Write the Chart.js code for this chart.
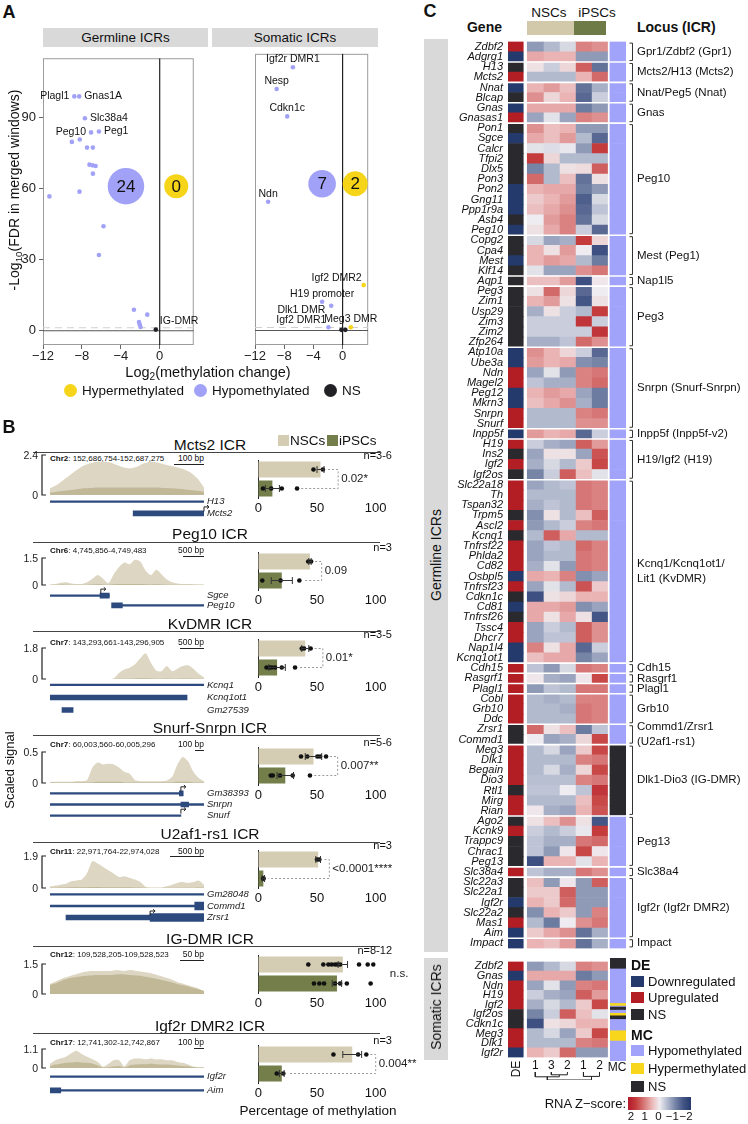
<!DOCTYPE html>
<html>
<head>
<meta charset="utf-8">
<script src="https://cdn.jsdelivr.net/npm/chart.js@4.4.1/dist/chart.umd.min.js"></script>
<style>
  body { margin: 0; background: #fff; }
  #fig { position: relative; width: 748px; height: 1124px; overflow: hidden; font-family: 'Liberation Sans', Arial, sans-serif; color: #111; }
  #fig canvas { position: absolute; }
  .t { position: absolute; white-space: nowrap; line-height: 1; }
  .t sub { font-size: 70%; vertical-align: baseline; position: relative; top: 0.3em; }
</style>
</head>
<body>
<div id="fig"></div>
<script>
// ---------- Panel A: volcano plots ----------
const A_X_MIN = -12, A_X_MAX = 3.5, A_Y_MIN = -6, A_Y_MAX = 115;
const A_X_TICKS = [-12, -8, -4, 0];
const A_Y_TICKS = [0, 30, 60, 90];
const FDR_CUTOFF = 1.3;

const GERM_HYPO_X = [-8.78, -8.28, -7.69, -7.06, -6.25, -9.03, -8.22, -7.47, -6.87, -7.22, -6.9, -6.59, -6.87, -8.25, -11.34, -5.78, -6.25, -2.65, -1.28, -2.13, -2.06, -1.97];
const GERM_HYPO_Y = [98.9, 98.9, 89.7, 83.7, 84.1, 79.7, 80.7, 77.3, 77.3, 70.1, 69.8, 69.5, 66.3, 58.7, 56.7, 44.1, 32, 8.9, 6.8, 3.7, 2.7, 1.6];
const GERM_HYPO_NAMES = ['Plagl1', 'Gnas1A', 'Slc38a4', 'Peg10', 'Peg1'];
const GERM_HYPER_X = [], GERM_HYPER_Y = [], GERM_HYPER_NAMES = [];
const GERM_NS_X = [-0.4], GERM_NS_Y = [0.5], GERM_NS_NAMES = ['IG-DMR'];

const SOM_HYPO_X = [-6.81, -9.03, -7.59, -10.2, -2.81, -1.56, -1.94];
const SOM_HYPO_Y = [109.4, 100.4, 89, 53.5, 12, 10.3, 1.35];
const SOM_HYPO_NAMES = ['Igf2r DMR1', 'Nesp', 'Cdkn1c', 'Ndn', 'H19 promoter', 'Dlk1 DMR', 'Igf2 DMR1'];
const SOM_HYPER_X = [2.88, 1.12], SOM_HYPER_Y = [18.9, 1.4], SOM_HYPER_NAMES = ['Igf2 DMR2', 'Meg3 DMR'];
const SOM_NS_X = [-0.16, 0.37], SOM_NS_Y = [0.3, 0.3], SOM_NS_NAMES = [];

// counts of hypo / hyper ICRs shown in the circles
const GERM_COUNTS = [24, 0], GERM_COUNT_X = [-3.47, 1.7];
const SOM_COUNTS = [7, 2], SOM_COUNT_X = [-2.81, 1.72];
const COUNT_Y = 61;

const LABEL_POS = { 'Plagl1': 'left', 'Gnas1A': 'right', 'Slc38a4': 'right', 'Peg10': 'left', 'Peg1': 'right',
  'IG-DMR': 'upright', 'Dlk1 DMR': 'leftdown', 'Igf2 DMR2': 'upleft', 'Igf2 DMR1': 'upleft' };

// ---------- Panel B: ICR tracks + methylation ----------
const ICR_TITLES = ['Mcts2 ICR', 'Peg10 ICR', 'KvDMR ICR', 'Snurf-Snrpn ICR', 'U2af1-rs1 ICR', 'IG-DMR ICR', 'Igf2r DMR2 ICR'];
const ICR_CHR = ['Chr2', 'Chr6', 'Chr7', 'Chr7', 'Chr11', 'Chr12', 'Chr17'];
const ICR_RANGE = ['152,686,754-152,687,275', '4,745,856-4,749,483', '143,293,661-143,296,905', '60,003,560-60,005,296',
  '22,971,764-22,974,028', '109,528,205-109,528,523', '12,741,302-12,742,867'];
const ICR_SCALE = ['100 bp', '500 bp', '500 bp', '100 bp', '500 bp', '50 bp', '100 bp'];
const SIGNAL_MAX = [2.4, 1.5, 1.8, 0.5, 1.9, 1.5, 1.1];

const NSC_SIGNAL = [
  [0.4, 0.6, 0.9, 1.2, 1.5, 1.75, 1.9, 2.0, 2.0, 1.95, 1.8, 1.65, 1.6, 1.7, 1.9, 2.0, 1.95, 1.85, 1.75, 1.65, 1.55, 1.35, 1.0, 0.45],
  [0.02, 0.05, 0.12, 0.15, 0.08, 0.05, 0.05, 0.15, 0.35, 0.55, 0.35, 0.1, 0.6, 1.0, 1.25, 1.15, 1.4, 1.3, 0.8, 0.55, 0.85, 0.6, 0.3, 0.15, 0.08, 0.05, 0.05, 0.04, 0.03, 0.02],
  [0, 0, 0, 0, 0, 0, 0, 0, 0, 0, 0, 0, 0.05, 0.35, 0.55, 0.65, 0.85, 1.2, 1.5, 0.95, 0.5, 0.45, 0.75, 0.45, 0.6, 0.75, 0.8, 0.6, 0.3, 0.1],
  [0.02, 0.02, 0.02, 0.02, 0.02, 0.03, 0.03, 0.05, 0.25, 0.33, 0.3, 0.31, 0.3, 0.25, 0.18, 0.15, 0.05, 0.03, 0.03, 0.03, 0.03, 0.03, 0.04, 0.1, 0.3, 0.42, 0.35, 0.18, 0.08, 0.03],
  [0.1, 0.15, 0.2, 0.25, 0.4, 0.45, 0.5, 0.9, 1.6, 1.45, 1.25, 1.05, 0.85, 0.65, 0.7, 0.6, 0.5, 0.35, 0.08, 0.02, 0.02, 0.02, 0.1, 0.2, 0.3, 0.35, 0.3, 0.35, 0.45, 0.2],
  [0.5, 0.65, 0.8, 0.9, 1.0, 1.1, 1.15, 1.15, 1.15, 1.15, 1.2, 1.15, 1.2, 1.15, 1.1, 1.05, 0.95, 0.85, 0.75, 0.6, 0.5, 0.4, 0.3, 0.15],
  [0.25, 0.45, 0.55, 0.65, 0.85, 1.0, 0.8, 0.65, 0.5, 0.35, 0.08, 0.25, 0.45, 0.45, 0.1, 0.45, 0.55, 0.55, 0.5, 0.55, 0.5, 0.5, 0.45, 0.45, 0.35, 0.3, 0.2, 0.08, 0.05, 0.05]
];
const IPSC_SIGNAL = [
  [0.15, 0.2, 0.25, 0.3, 0.35, 0.4, 0.42, 0.45, 0.45, 0.45, 0.45, 0.45, 0.45, 0.45, 0.45, 0.45, 0.45, 0.42, 0.4, 0.38, 0.35, 0.3, 0.25, 0.2],
  [0.01, 0.01, 0.02, 0.02, 0.01, 0.01, 0.01, 0.02, 0.03, 0.04, 0.03, 0.01, 0.04, 0.05, 0.06, 0.05, 0.06, 0.05, 0.04, 0.03, 0.04, 0.03, 0.02, 0.01, 0.01, 0.01, 0.01, 0.01, 0.01, 0.01],
  [0, 0, 0, 0, 0, 0, 0, 0, 0, 0, 0, 0, 0, 0.01, 0.02, 0.02, 0.03, 0.04, 0.05, 0.03, 0.02, 0.02, 0.03, 0.02, 0.02, 0.03, 0.03, 0.02, 0.01, 0],
  [0.01, 0.01, 0.01, 0.01, 0.01, 0.01, 0.01, 0.01, 0.01, 0.02, 0.02, 0.02, 0.02, 0.02, 0.01, 0.01, 0.01, 0.01, 0.01, 0.01, 0.01, 0.01, 0.01, 0.01, 0.02, 0.02, 0.02, 0.01, 0.01, 0.01],
  [0.02, 0.02, 0.03, 0.03, 0.04, 0.04, 0.04, 0.05, 0.06, 0.06, 0.05, 0.05, 0.04, 0.04, 0.04, 0.04, 0.03, 0.03, 0.01, 0.01, 0.01, 0.01, 0.01, 0.02, 0.02, 0.02, 0.02, 0.02, 0.03, 0.02],
  [0.45, 0.55, 0.7, 0.8, 0.85, 0.9, 0.92, 0.95, 0.95, 0.95, 0.98, 0.98, 0.95, 0.92, 0.88, 0.82, 0.75, 0.68, 0.6, 0.5, 0.42, 0.34, 0.25, 0.15],
  [0.1, 0.2, 0.25, 0.3, 0.32, 0.35, 0.32, 0.3, 0.25, 0.15, 0.03, 0.05, 0.1, 0.12, 0.03, 0.15, 0.2, 0.22, 0.22, 0.25, 0.22, 0.2, 0.2, 0.18, 0.15, 0.12, 0.1, 0.05, 0.03, 0.03]
];

// gene models, positions as fraction of the track window
const GENE_NAMES = [['H13', 'Mcts2'], ['Sgce', 'Peg10'], ['Kcnq1', 'Kcnq1ot1', 'Gm27539'], ['Gm38393', 'Snrpn', 'Snurf'],
  ['Gm28048', 'Commd1', 'Zrsr1'], [], ['Igf2r', 'Aim']];
const GENE_INTRON = [[[0, 1], null], [[0, 0.385], [0.47, 1]], [[0, 1], null, null], [[0, 0.85], [0, 1], [0, 0.85]],
  [[0, 1], [0, 0.94], null], [], [[0, 1], [0.07, 1]]];
const GENE_EXON = [[null, [0.54, 1]], [[0.325, 0.385], [0.4, 0.47]], [null, [0, 0.89], [0.078, 0.15]], [[0.84, 0.865], [0.85, 0.9], null],
  [null, null, [0.104, 0.65]], [], [null, [0, 0.07]]];
const GENE_WIDE = [[null, null], [null, null], [null, null, null], [null, null, null], [null, [0.94, 1], [0.65, 1]], [], [null, null]];
const GENE_TSS = [[null, 1], [0.33, null], [null, null, null], [0.85, null, 0.85], [null, null, 0.65], [], [null, null]];

const GROUPS = ['NSCs', 'iPSCs'];
const PCT_TICKS = [0, 50, 100];
const NSC_MEAN = [53, 44, 40, 47, 51, 72, 80];
const NSC_SEM = [3, 1, 3, 7, 2, 4, 8];
const IPSC_MEAN = [12, 20, 16, 23, 4.3, 67, 20];
const IPSC_SEM = [6, 9, 7, 7, 1, 4, 2];
const NSC_POINTS = [[47, 55], [42.5, 45], [37, 39, 44.6], [36.4, 41.7, 50.3, 52.6, 57.7], [50, 52],
  [42.6, 55.4, 59.7, 62.5, 65.4, 67.4, 69.7, 85.8, 93.2, 98], [64, 85, 92]];
const IPSC_POINTS = [[4, 11, 20, 33], [3.4, 19, 35], [7, 9.4, 11.4, 14.3, 20, 31.3], [10.6, 12.3, 18.5, 29.3, 44], [4.2, 4.5],
  [47.4, 52, 56, 65.4, 69.7, 75.4, 95.7], [15.7, 21.3]];
const SAMPLE_N = ['n=3-6', 'n=3', 'n=3-5', 'n=5-6', 'n=3', 'n=8-12', 'n=3'];
const P_VALUES = ['0.02*', '0.09', '0.01*', '0.007**', '<0.0001****', 'n.s.', '0.004**'];
const P_BRACKET_AT = [68, 54, 55, 67.6, 60.5, null, 100];

// ---------- Panel C: heatmap ----------
const REPLICATE_LABELS = ['1', '3', '2', '1', '2'];
const GERM_GENES = ['Zdbf2', 'Adgrg1', 'H13', 'Mcts2', 'Nnat', 'Blcap', 'Gnas', 'Gnasas1', 'Pon1', 'Sgce', 'Calcr', 'Tfpi2', 'Dlx5',
  'Pon3', 'Pon2', 'Gng11', 'Ppp1r9a', 'Asb4', 'Peg10', 'Copg2', 'Cpa4', 'Mest', 'Klf14', 'Aqp1', 'Peg3', 'Zim1', 'Usp29', 'Zim3',
  'Zim2', 'Zfp264', 'Atp10a', 'Ube3a', 'Ndn', 'Magel2', 'Peg12', 'Mkrn3', 'Snrpn', 'Snurf', 'Inpp5f', 'H19', 'Ins2', 'Igf2',
  'Igf2os', 'Slc22a18', 'Th', 'Tspan32', 'Trpm5', 'Ascl2', 'Kcnq1', 'Tnfrsf22', 'Phlda2', 'Cd82', 'Osbpl5', 'Tnfrsf23',
  'Cdkn1c', 'Cd81', 'Tnfrsf26', 'Tssc4', 'Dhcr7', 'Nap1l4', 'Kcnq1ot1', 'Cdh15', 'Rasgrf1', 'Plagl1', 'Cobl', 'Grb10', 'Ddc',
  'Zrsr1', 'Commd1', 'Meg3', 'Dlk1', 'Begain', 'Dio3', 'Rtl1', 'Mirg', 'Rian', 'Ago2', 'Kcnk9', 'Trappc9', 'Chrac1', 'Peg13',
  'Slc38a4', 'Slc22a3', 'Slc22a1', 'Igf2r', 'Slc22a2', 'Mas1', 'Aim', 'Impact'];
const GERM_DE = ['U', 'D', 'N', 'U', 'D', 'N', 'D', 'U', 'N', 'D', 'N', 'N', 'N', 'N', 'D', 'D', 'D', 'N', 'D', 'N', 'N', 'D', 'N',
  'N', 'N', 'N', 'N', 'N', 'N', 'N', 'D', 'D', 'U', 'U', 'D', 'D', 'U', 'U', 'D', 'U', 'N', 'U', 'N', 'U', 'U', 'U', 'N', 'U',
  'N', 'U', 'U', 'U', 'D', 'U', 'N', 'D', 'N', 'U', 'U', 'D', 'D', 'U', 'U', 'U', 'U', 'U', 'U', 'N', 'N', 'U', 'U', 'U', 'U',
  'N', 'U', 'U', 'N', 'U', 'N', 'N', 'N', 'U', 'N', 'N', 'D', 'N', 'U', 'D', 'D'];
// RNA z-scores per gene: NSC 1, NSC 3, NSC 2, iPSC 1, iPSC 2
const GERM_Z = [
  [-0.8, -0.5, -0.2, 0.9, 0.8], [0.6, 0.5, 0.5, -0.8, -0.8], [0.1, -0.3, 0.2, 1.2, -1.2], [-0.5, -0.5, -0.5, 0.5, 1.1],
  [0.5, 0.7, 0.4, -1.2, -0.6], [0.8, 0.2, 0.5, -1.3, -0.3], [0.6, 0.6, 0.6, -1.1, -0.8], [-0.7, -0.1, -0.7, 0.9, 0.8],
  [0.8, 0.4, 0.5, -0.8, -0.8], [0.6, 0.4, 0.7, -0.5, -1.3], [-0.1, -0.15, -0.05, -0.8, 1.5], [1.5, 0.2, -0.5, -0.5, -0.5],
  [-1.0, -0.5, 0.1, 0.15, 1.2], [1.1, -0.5, 0.4, -1.2, 0.1], [0.5, 0.6, 0.6, -1.1, -0.8], [0.3, 0.5, 0.7, -1.4, -0.2],
  [0.4, 0.6, 0.8, -1.3, -0.4], [0, 0.7, 0.9, -1.2, -0.2], [0.1, 0.6, 0.9, -0.3, -1.3], [-0.2, -0.7, -0.6, 1.5, 0.2],
  [0.5, 0.1, 0.7, 0, -1.6], [0.5, 0.7, 0.6, -0.5, -1.1], [-0.1, -0.7, -0.7, 0.8, 1.0], [0.4, 0.4, 0.7, -1.6, 0.05],
  [0.1, 1.1, 0.2, -1.3, 0], [0.5, 0.7, 0.1, -1.5, 0.1], [-0.6, 0.1, -0.3, -0.5, 1.5], [-0.3, -0.3, -0.3, 1.6, -0.3],
  [-0.3, -0.3, -0.3, -0.3, 1.6], [-0.6, -0.6, -0.4, 1.1, 0.8], [0.8, 0.5, 0.2, -0.3, -1.3], [0.7, 0.5, 0.6, -0.9, -1.0],
  [-0.7, -0.1, -0.8, 0.9, 1.0], [-0.4, -0.6, -0.6, 0.9, 1.1], [0.5, 0.7, 0.6, -0.7, -1.1], [0.4, 0.6, 0.8, -0.6, -1.1],
  [-0.5, -0.5, -0.5, 0.9, 1.0], [-0.5, -0.5, -0.5, 0.8, 0.8], [0.7, 0.5, 0.6, -1.3, -0.3], [-0.3, -0.6, -0.7, 1.2, 0.7],
  [-0.7, 0.1, 0.1, -0.7, 1.3], [-0.6, -0.2, -0.5, 0.3, 1.4], [-1.0, -0.3, 1.2, 0.4, -0.1], [-0.7, -0.5, -0.4, 1.0, 0.9],
  [-0.5, -0.5, -0.5, 1.0, 0.9], [-0.6, -0.4, -0.5, 1.0, 0.9], [-0.9, 0.1, -0.5, 0.4, 1.2], [-0.8, -0.5, -0.3, 0.9, 1.0],
  [-0.5, 1.2, 0.6, -0.5, -0.5], [-0.7, -0.4, -0.5, 1.1, 0.9], [-0.7, -0.5, -0.5, 1.0, 0.9], [-0.6, -0.1, -0.8, 1.0, 0.9],
  [0.6, 0.5, 0.9, -0.9, -0.7], [-0.7, -0.1, -0.5, 1.3, 0.3], [-1.6, 0.1, 0.2, 0.5, 0.5], [0.6, 0.6, 0.7, -0.9, -0.7],
  [0.6, 0.1, 0.6, 0.1, -1.5], [-0.7, -0.3, -0.5, 1.2, 0.8], [-0.7, -0.4, -0.4, 1.2, 0.8], [0.9, 0.1, 0.6, -1.3, -0.3],
  [0.4, 0.6, 0.6, -1.0, -0.7], [-0.4, -0.8, -0.2, 1.0, 0.9], [0.05, -0.6, -0.7, 0.05, 1.4], [-0.8, -0.4, -0.5, 1.0, 1.0],
  [-0.5, -0.6, -0.5, 0.9, 0.9], [-0.5, -0.5, -0.6, 1.0, 0.9], [-0.5, -0.5, -0.5, 1.0, 0.9], [1.1, 0.1, 0.4, -1.1, -0.4],
  [0, -0.7, -0.6, 0.2, 1.4], [-0.5, -0.2, -0.7, 0.3, 1.4], [-0.5, -0.5, -0.5, 0.9, 1.0], [-0.5, -0.2, -0.6, 0.2, 1.4],
  [-0.45, -0.45, -0.45, 0.9, 1.0], [-0.4, -0.4, 0, -0.4, 1.6], [-0.5, -0.5, -0.5, 0.4, 1.4], [0.05, -0.6, -0.7, 0.5, 1.3],
  [0.1, 0.4, 0.8, 0.1, -1.5], [-0.3, -0.5, -0.3, -0.05, 1.5], [-0.4, -0.6, -0.6, 1.0, 1.1], [-0.4, -0.8, 0.05, 1.4, 0.05],
  [-1.6, 0.5, 0.5, -0.1, 0.5], [-0.4, -0.6, -0.6, 1.0, 0.8], [0.4, -0.8, 0.05, -0.8, 1.2], [0.3, 0.3, 1.2, -0.8, -0.8],
  [0.5, 0.3, 1.1, -0.8, -0.8], [-0.9, 0.5, 0.3, -0.8, 0.9], [-0.5, -1.1, 0, 0.8, 1.0], [0.3, 0.6, 0.8, -1.2, -0.6],
  [0.5, 0.4, 0.7, -1.2, -0.6]
];
const LOCUS_LABELS = ['Gpr1/Zdbf2 (Gpr1)', 'Mcts2/H13 (Mcts2)', 'Nnat/Peg5 (Nnat)', 'Gnas', 'Peg10', 'Mest (Peg1)', 'Nap1l5', 'Peg3',
  'Snrpn (Snurf-Snrpn)', 'Inpp5f (Inpp5f-v2)', 'H19/Igf2 (H19)', 'Kcnq1/Kcnq1ot1/\nLit1 (KvDMR)', 'Cdh15', 'Rasgrf1', 'Plagl1',
  'Grb10', 'Commd1/Zrsr1\n(U2af1-rs1)', 'Dlk1-Dio3 (IG-DMR)', 'Peg13', 'Slc38a4', 'Igf2r (Igf2r DMR2)', 'Impact'];
const LOCUS_START = [0, 2, 4, 6, 8, 19, 23, 24, 30, 38, 39, 43, 61, 62, 63, 64, 67, 69, 76, 81, 82, 88];
const LOCUS_MC = ['hypo', 'hypo', 'hypo', 'hypo', 'hypo', 'hypo', 'hypo', 'hypo', 'hypo', 'hypo', 'hypo', 'hypo', 'hypo', 'hypo',
  'hypo', 'hypo', 'hypo', 'ns', 'hypo', 'hypo', 'hypo', 'hypo'];
const SOM_GENES = ['Zdbf2', 'Gnas', 'Ndn', 'H19', 'Igf2', 'Igf2os', 'Cdkn1c', 'Meg3', 'Dlk1', 'Igf2r'];
// somatic MC column, in row units from the top (some genes carry several DMRs)
const SOM_MC_STATE = ['ns', 'hypo', 'hyper', 'hypo', 'ns', 'hypo', 'hyper', 'ns', 'hypo', 'hyper', 'hypo'];
const SOM_MC_SPAN = [1, 3.35, 0.25, 0.1, 0.3, 0.3, 0.25, 0.35, 1.1, 1, 2];
const DENDRO_MERGES = [[1, 2, 0.35], [0, 5, 0.6], [3, 4, 0.55], [6, 7, 1]];
const Z_LEGEND_TICKS = [2, 1, 0, -1, -2];

// ---------- styles ----------
const HYPO = '#a1a2f7', HYPER = '#f6d418', NSDOT = '#222226';
const NSC_COLOR = '#d4ccb3', IPSC_COLOR = '#737e4b';
const NSC_AREA = '#ddd6c2', IPSC_AREA = '#c1b898';
const GENE_COLOR = '#2c4a7e';
const DE_COLOR = { U: '#b21e24', D: '#243a6c', N: '#29292e' };
const MC_COLOR = { hypo: '#a1a3fb', hyper: '#f8d61c', ns: '#29292e' };
const Z_STOPS = [[-2, [38, 58, 110]], [-1.5, [68, 86, 134]], [-1, [118, 132, 166]], [-0.5, [178, 186, 206]], [0, [238, 236, 240]],
  [0.5, [234, 180, 180]], [1, [214, 118, 118]], [1.5, [196, 60, 60]], [2, [178, 24, 43]]];
const FONT = "'Liberation Sans', Arial, sans-serif";

Chart.defaults.font.family = FONT;
Chart.defaults.color = '#111';
Chart.defaults.animation = false;
Chart.defaults.plugins.legend.display = false;
Chart.defaults.plugins.tooltip.enabled = false;

const fig = document.getElementById('fig');

function canvasAt(x, y, w, h) {
  const c = document.createElement('canvas');
  c.width = Math.round(w);
  c.height = Math.round(h);
  c.style.left = x + 'px';
  c.style.top = y + 'px';
  fig.appendChild(c);
  return c;
}

function label(x, y, html, css, align) {
  const d = document.createElement('div');
  d.className = 't';
  d.innerHTML = html;
  d.style.cssText = css || '';
  d.style.left = x + 'px';
  d.style.top = y + 'px';
  if (align === 'vert') d.style.transform = 'translate(-50%, -50%) rotate(-90deg)';
  else d.style.transform = 'translate(' + (align === 'right' ? '-100%' : align === 'left' ? '0' : '-50%') + ', -50%)';
  fig.appendChild(d);
  return d;
}

function box(x, y, w, h, color) {
  const d = document.createElement('div');
  d.style.cssText = `position:absolute;left:${x}px;top:${y}px;width:${w}px;height:${h}px;background:${color};`;
  fig.appendChild(d);
  return d;
}

function zColor(z) {
  z = Math.max(-2, Math.min(2, z));
  for (let k = 1; k < Z_STOPS.length; k++) {
    const [z1, c1] = Z_STOPS[k - 1], [z2, c2] = Z_STOPS[k];
    if (z <= z2) {
      const t = (z - z1) / (z2 - z1);
      return 'rgb(' + c1.map((v, n) => Math.round(v + (c2[n] - v) * t)).join(',') + ')';
    }
  }
}

const minus = v => String(v).replace('-', '\u2212');
const pts = (xs, ys) => xs.map((x, i) => ({ x, y: ys[i] }));

// ---------- Panel A ----------
const framePlugin = {
  id: 'frame',
  beforeDatasetsDraw(chart) {
    const { ctx, chartArea: a } = chart;
    ctx.save();
    ctx.strokeStyle = '#9c9c9c';
    ctx.lineWidth = 1;
    ctx.strokeRect(a.left + 0.5, a.top + 0.5, a.width - 1, a.height - 1);
    ctx.restore();
  }
};

const pointLabels = {
  id: 'pointLabels',
  afterDatasetsDraw(chart) {
    const ctx = chart.ctx;
    ctx.save();
    ctx.textBaseline = 'middle';
    ctx.fillStyle = '#111';
    chart.data.datasets.forEach((ds, di) => {
      const meta = chart.getDatasetMeta(di);
      if (ds.names) {
        ctx.font = '10.5px ' + FONT;
        meta.data.forEach((pt, i) => {
          const name = ds.names[i];
          if (!name) return;
          const pos = LABEL_POS[name] || 'up';
          let x = pt.x, y = pt.y;
          if (pos === 'left') { ctx.textAlign = 'right'; x -= 5; }
          else if (pos === 'leftdown') { ctx.textAlign = 'right'; x -= 6; y += 4; }
          else if (pos === 'right') { ctx.textAlign = 'left'; x += 5; }
          else if (pos === 'upright') { ctx.textAlign = 'left'; x += 4; y -= 8; }
          else if (pos === 'upleft') { ctx.textAlign = 'right'; x -= 2; y -= 7; }
          else { ctx.textAlign = 'center'; y -= 8; }
          ctx.fillText(name, x, y);
        });
      }
      if (ds.counts) {
        ctx.font = '17px ' + FONT;
        ctx.textAlign = 'center';
        meta.data.forEach((pt, i) => ctx.fillText(String(ds.counts[i]), pt.x, pt.y + 1));
      }
    });
    ctx.restore();
  }
};

function refLine(data, color, dash) {
  return { type: 'line', data, borderColor: color, borderWidth: 1.1, borderDash: dash || [], pointRadius: 0, fill: false };
}

function volcano(left, width, padLeft, f, showY) {
  const c = canvasAt(left, 40, width, 330);
  const dot = (xs, ys, names, color) => ({ type: 'scatter', data: pts(xs, ys), names, backgroundColor: color, pointRadius: 2.3, borderWidth: 0 });
  new Chart(c, {
    type: 'scatter',
    data: {
      datasets: [
        dot(f.hypoX, f.hypoY, f.hypoNames, HYPO),
        dot(f.hyperX, f.hyperY, f.hyperNames, HYPER),
        dot(f.nsX, f.nsY, f.nsNames, NSDOT),
        { type: 'bubble', data: f.counts.map((n, k) => ({ x: f.countX[k], y: COUNT_Y, r: 12 + n * 0.26 })),
          counts: f.counts, backgroundColor: [HYPO, HYPER], borderWidth: 0 },
        refLine([{ x: 0, y: A_Y_MIN }, { x: 0, y: A_Y_MAX }], '#111'),
        refLine([{ x: A_X_MIN, y: 0 }, { x: A_X_MAX, y: 0 }], '#555'),
        refLine([{ x: A_X_MIN, y: FDR_CUTOFF }, { x: A_X_MAX, y: FDR_CUTOFF }], '#cfcfcf', [7, 5])
      ]
    },
    options: {
      responsive: false,
      layout: { padding: { top: 7, right: 4, left: padLeft } },
      scales: {
        x: {
          type: 'linear', min: A_X_MIN, max: A_X_MAX,
          afterBuildTicks: s => { s.ticks = A_X_TICKS.map(v => ({ value: v })); },
          ticks: { callback: v => minus(v), font: { size: 13 }, color: '#222', padding: 0, maxRotation: 0, autoSkip: false },
          grid: { drawOnChartArea: false, drawTicks: true, tickLength: 4, color: '#666' },
          border: { display: false },
          afterFit: s => { s.height = 25; }
        },
        y: {
          display: showY, min: A_Y_MIN, max: A_Y_MAX,
          afterBuildTicks: s => { s.ticks = A_Y_TICKS.map(v => ({ value: v })); },
          ticks: { font: { size: 13 }, color: '#222', padding: 3 },
          grid: { drawOnChartArea: false, drawTicks: true, tickLength: 4, color: '#666' },
          border: { display: false },
          afterFit: s => { s.width = 43; }
        }
      }
    },
    plugins: [framePlugin, pointLabels]
  });
}

label(9, 12, 'A', 'font-size:18px;font-weight:bold;', 'center');
box(43, 28, 165, 19, '#d9d9d9');
box(212, 28, 166, 19, '#d9d9d9');
label(125.5, 38, 'Germline ICRs', 'font-size:13.5px;', 'center');
label(295, 38, 'Somatic ICRs', 'font-size:13.5px;', 'center');
volcano(0, 212, 0, { hypoX: GERM_HYPO_X, hypoY: GERM_HYPO_Y, hypoNames: GERM_HYPO_NAMES, hyperX: GERM_HYPER_X, hyperY: GERM_HYPER_Y,
  hyperNames: GERM_HYPER_NAMES, nsX: GERM_NS_X, nsY: GERM_NS_Y, nsNames: GERM_NS_NAMES, counts: GERM_COUNTS, countX: GERM_COUNT_X }, true);
volcano(208, 174, 4, { hypoX: SOM_HYPO_X, hypoY: SOM_HYPO_Y, hypoNames: SOM_HYPO_NAMES, hyperX: SOM_HYPER_X, hyperY: SOM_HYPER_Y,
  hyperNames: SOM_HYPER_NAMES, nsX: SOM_NS_X, nsY: SOM_NS_Y, nsNames: SOM_NS_NAMES, counts: SOM_COUNTS, countX: SOM_COUNT_X }, false);
label(14, 190, '-Log<sub>10</sub>(FDR in merged windows)', 'font-size:14px;', 'vert');
label(208, 372, 'Log<sub>2</sub>(methylation change)', 'font-size:14.5px;', 'center');
[[70, HYPER, 'Hypermethylated'], [200, HYPO, 'Hypomethylated'], [330, NSDOT, 'NS']].forEach(([x, col, txt]) => {
  const d = box(x - 6.5, 383.5, 13, 13, col);
  d.style.borderRadius = '50%';
  label(x + 12, 390.5, txt, 'font-size:13.5px;', 'left');
});

// ---------- Panel B ----------
const ROW_SEP = [452, 541.7, 631, 735, 841.7, 946, 1033];
const CHR_Y = [459, 551, 643, 745, 851.7, 955, 1043];
const TRACK_TOP = [455, 557.7, 647.7, 751.7, 856, 964, 1049];
const TRACK_BOT = [495, 585, 679, 782.7, 887.7, 994, 1068];
const GENE_Y0 = [501.7, 595, 684, 792.7, 894, 0, 1075.7];
const GENE_DY = [12.6, 10.5, 13, 11.5, 12, 0, 14.3];
const BAR_TOP = [458, 550, 637, 745, 848, 953, 1043];
const TRACK_W = 154;

const bracketPlugin = {
  id: 'bracket',
  afterDraw(chart) {
    const { ctx, chartArea: a } = chart;
    const x = a.left - 8;
    ctx.save();
    ctx.strokeStyle = '#222';
    ctx.lineWidth = 1.2;
    ctx.beginPath();
    ctx.moveTo(x + 4, a.top); ctx.lineTo(x, a.top); ctx.lineTo(x, a.bottom); ctx.lineTo(x + 4, a.bottom);
    ctx.stroke();
    ctx.restore();
  }
};

function trackChart(i) {
  const top = TRACK_TOP[i], bot = TRACK_BOT[i];
  const c = canvasAt(0, top - 1, 206, bot - top + 2);
  const toXY = arr => arr.map((v, k) => ({ x: k / (arr.length - 1), y: v }));
  new Chart(c, {
    type: 'line',
    data: {
      datasets: [
        { data: toXY(IPSC_SIGNAL[i]), fill: 'origin', backgroundColor: IPSC_AREA, borderWidth: 0, pointRadius: 0, tension: 0.25 },
        { data: toXY(NSC_SIGNAL[i]), fill: 'origin', backgroundColor: NSC_AREA, borderWidth: 0, pointRadius: 0, tension: 0.25 }
      ]
    },
    options: {
      responsive: false,
      layout: { padding: { top: 1, bottom: 1, left: 50, right: 2 } },
      scales: {
        x: { type: 'linear', min: 0, max: 1, display: false },
        y: { min: 0, max: SIGNAL_MAX[i], display: false }
      }
    },
    plugins: [bracketPlugin]
  });
  label(38, top, String(SIGNAL_MAX[i]), 'font-size:10.5px;color:#222;', 'right');
  label(38, bot, '0', 'font-size:10.5px;color:#222;', 'right');
}

function tssPlugin(i) {
  return {
    id: 'tss',
    afterDatasetsDraw(chart) {
      const { ctx, scales: { x, y } } = chart;
      ctx.save();
      ctx.strokeStyle = '#222';
      ctx.lineWidth = 1;
      GENE_TSS[i].forEach((t, g) => {
        if (t === null) return;
        const px = x.getPixelForValue(t), py = y.getPixelForValue(g);
        ctx.beginPath();
        ctx.moveTo(px, py - 2); ctx.lineTo(px, py - 6.5); ctx.lineTo(px + 5, py - 6.5);
        ctx.moveTo(px + 3, py - 8.3); ctx.lineTo(px + 5, py - 6.5); ctx.lineTo(px + 3, py - 4.7);
        ctx.stroke();
      });
      ctx.restore();
    }
  };
}

function geneChart(i) {
  const names = GENE_NAMES[i];
  if (!names.length) return;
  const dy = GENE_DY[i];
  const c = canvasAt(50, GENE_Y0[i] - dy / 2 - 8, TRACK_W + 52, names.length * dy + 16);
  const ds = (arr, h) => ({ data: arr, backgroundColor: GENE_COLOR, barThickness: h, grouped: false, borderWidth: 0 });
  new Chart(c, {
    type: 'bar',
    data: { labels: names, datasets: [ds(GENE_WIDE[i], 8), ds(GENE_EXON[i], 5), ds(GENE_INTRON[i], 1.6)] },
    options: {
      indexAxis: 'y', responsive: false,
      layout: { padding: { top: 8, bottom: 8 } },
      scales: {
        x: { type: 'linear', min: 0, max: 1, display: false },
        y: {
          position: 'right',
          ticks: { autoSkip: false, font: { size: 9.5, style: 'italic' }, color: '#222', padding: 3 },
          grid: { display: false, drawTicks: false },
          border: { display: false },
          afterFit: s => { s.width = 52; }
        }
      }
    },
    plugins: [tssPlugin(i)]
  });
}

function barDecor(i) {
  return {
    id: 'barDecor',
    afterDatasetsDraw(chart) {
      const { ctx, scales: { x } } = chart;
      const bars = chart.getDatasetMeta(1).data;
      const means = [NSC_MEAN[i], IPSC_MEAN[i]], sems = [NSC_SEM[i], IPSC_SEM[i]], dots = [NSC_POINTS[i], IPSC_POINTS[i]];
      ctx.save();
      ctx.strokeStyle = '#333';
      ctx.lineWidth = 1;
      bars.forEach((b, k) => {
        const x0 = x.getPixelForValue(means[k] - sems[k]), x1 = x.getPixelForValue(means[k] + sems[k]);
        ctx.beginPath();
        ctx.moveTo(x0, b.y); ctx.lineTo(x1, b.y);
        ctx.moveTo(x0, b.y - 3.5); ctx.lineTo(x0, b.y + 3.5);
        ctx.moveTo(x1, b.y - 3.5); ctx.lineTo(x1, b.y + 3.5);
        ctx.stroke();
      });
      const ym = (bars[0].y + bars[1].y) / 2;
      ctx.font = '11.5px ' + FONT;
      ctx.fillStyle = '#222';
      ctx.textBaseline = 'middle';
      ctx.textAlign = 'left';
      const at = P_BRACKET_AT[i];
      if (at !== null) {
        const px = x.getPixelForValue(at);
        const ends = [0, 1].map(k => x.getPixelForValue(Math.max(means[k] + sems[k], ...dots[k])) + 4);
        ctx.strokeStyle = '#9a9a9a';
        ctx.setLineDash([2, 2]);
        ctx.beginPath();
        ctx.moveTo(ends[0], bars[0].y); ctx.lineTo(px, bars[0].y); ctx.lineTo(px, bars[1].y); ctx.lineTo(ends[1], bars[1].y);
        ctx.stroke();
        ctx.setLineDash([]);
        ctx.fillText(P_VALUES[i], px + 3, ym);
      } else {
        ctx.fillText(P_VALUES[i], x.getPixelForValue(112), ym);
      }
      ctx.restore();
    }
  };
}

function methylChart(i) {
  const c = canvasAt(240, BAR_TOP[i] - 2, 190, 62);
  new Chart(c, {
    type: 'bar',
    data: {
      labels: GROUPS,
      datasets: [
        { type: 'scatter', data: [...NSC_POINTS[i].map(v => ({ x: v, y: GROUPS[0] })), ...IPSC_POINTS[i].map(v => ({ x: v, y: GROUPS[1] }))],
          backgroundColor: '#111', pointRadius: 2.3, borderWidth: 0 },
        { data: [NSC_MEAN[i], IPSC_MEAN[i]], backgroundColor: [NSC_COLOR, IPSC_COLOR], categoryPercentage: 0.92, barPercentage: 0.92 }
      ]
    },
    options: {
      indexAxis: 'y', responsive: false,
      layout: { padding: { top: 2, left: 18.3, right: 54.3 } },
      scales: {
        x: {
          type: 'linear', min: 0, max: 100,
          afterBuildTicks: s => { s.ticks = PCT_TICKS.map(v => ({ value: v })); },
          ticks: { font: { size: 13 }, color: '#111', padding: 3, maxRotation: 0 },
          grid: { display: false, drawTicks: false },
          border: { display: false },
          afterFit: s => { s.height = 20; }
        },
        y: {
          ticks: { display: false },
          grid: { display: false, drawTicks: false },
          border: { display: true, color: '#222', width: 1 },
          afterFit: s => { s.width = 0; }
        }
      }
    },
    plugins: [barDecor(i)]
  });
}

label(9, 427, 'B', 'font-size:18px;font-weight:bold;', 'center');
ICR_TITLES.forEach((title, i) => {
  const sep = ROW_SEP[i];
  label(210, sep - 7.5, title, 'font-size:15.5px;', 'center');
  box(33, sep, 347, 1, '#444');
  label(50, CHR_Y[i], `<b>${ICR_CHR[i]}</b>: ${ICR_RANGE[i]}`, 'font-size:8px;', 'left');
  const [s, e] = ICR_RANGE[i].split('-').map(t => +t.replace(/,/g, ''));
  const w = parseInt(ICR_SCALE[i], 10) / (e - s) * TRACK_W;
  label(204, CHR_Y[i] - 1, ICR_SCALE[i], 'font-size:8.5px;', 'right');
  box(204 - w, CHR_Y[i] + 4.5, w, 1, '#222');
  trackChart(i);
  geneChart(i);
  methylChart(i);
  label(392, BAR_TOP[i] - 3, SAMPLE_N[i], 'font-size:11px;', 'right');
});
box(278, 435, 11, 11, NSC_COLOR);
label(290, 441, 'NSCs', 'font-size:13.5px;', 'left');
box(327, 435, 11, 11, IPSC_COLOR);
label(339, 441, 'iPSCs', 'font-size:13.5px;', 'left');
label(9, 770, 'Scaled signal', 'font-size:13px;', 'vert');
label(318, 1111, 'Percentage of methylation', 'font-size:13.5px;', 'center');

// ---------- Panel C ----------
const ROW_H = 10.27, GERM_TOP = 38, SOM_TOP = 958, LABEL_PAD = 8;
const DE_SPAN = [0, 0.95], HEAT_START = 1.2, MC_SPAN = [6.35, 7.35], HEAT_X_MAX = 7.35;

function locusOf(r) {
  let g = 0;
  while (g + 1 < LOCUS_START.length && LOCUS_START[g + 1] <= r) g++;
  return g;
}

const locusPlugin = {
  id: 'locus',
  afterDatasetsDraw(chart) {
    const { ctx, chartArea: a, scales: { y } } = chart;
    const half = (y.getPixelForValue(1) - y.getPixelForValue(0)) / 2;
    ctx.save();
    LOCUS_START.forEach((s, g) => {
      const e = (g + 1 < LOCUS_START.length ? LOCUS_START[g + 1] : GERM_GENES.length) - 1;
      const top = y.getPixelForValue(s) - half, bot = y.getPixelForValue(e) + half;
      if (s > 0) {
        ctx.strokeStyle = '#fff';
        ctx.lineWidth = 1.6;
        ctx.beginPath(); ctx.moveTo(a.left, top); ctx.lineTo(a.right, top); ctx.stroke();
      }
      const bx = a.right + 6.5;
      ctx.strokeStyle = '#333';
      ctx.lineWidth = 1;
      ctx.beginPath();
      ctx.moveTo(bx - 3, top + 1.5); ctx.lineTo(bx, top + 1.5); ctx.lineTo(bx, bot - 1.5); ctx.lineTo(bx - 3, bot - 1.5);
      ctx.stroke();
      const lines = LOCUS_LABELS[g].split('\n');
      ctx.fillStyle = '#111';
      ctx.font = '11.5px ' + FONT;
      ctx.textBaseline = 'middle';
      ctx.textAlign = 'left';
      lines.forEach((ln, k) => ctx.fillText(ln, a.right + 11, (top + bot) / 2 + (k - (lines.length - 1) / 2) * 14.5));
    });
    ctx.restore();
  }
};

function heatChart(top, genes, mcCodes, plugins) {
  const idx = genes.map(g => GERM_GENES.indexOf(g));
  const datasets = [{ data: genes.map(() => DE_SPAN), backgroundColor: idx.map(r => DE_COLOR[GERM_DE[r]]) }];
  REPLICATE_LABELS.forEach((_, j) => {
    datasets.push({ data: genes.map(() => [HEAT_START + j, HEAT_START + j + 1]), backgroundColor: idx.map(r => zColor(GERM_Z[r][j])) });
  });
  if (mcCodes) datasets.push({ data: genes.map(() => MC_SPAN), backgroundColor: mcCodes.map(m => MC_COLOR[m]) });
  datasets.forEach(d => Object.assign(d, { grouped: false, barPercentage: 1, categoryPercentage: 1, borderWidth: 0 }));
  const c = canvasAt(440, top - LABEL_PAD, 308, genes.length * ROW_H + 2 * LABEL_PAD);
  new Chart(c, {
    type: 'bar',
    data: { labels: genes, datasets },
    options: {
      indexAxis: 'y', responsive: false,
      layout: { padding: { right: 122, top: LABEL_PAD, bottom: LABEL_PAD } },
      scales: {
        x: { type: 'linear', min: 0, max: HEAT_X_MAX, display: false },
        y: {
          ticks: { autoSkip: false, font: { size: 11, style: 'italic' }, color: '#111', padding: 5 },
          grid: { display: false, drawTicks: false },
          border: { display: false },
          afterFit: s => { s.width = 68; }
        }
      }
    },
    plugins
  });
}

label(430, 11, 'C', 'font-size:18px;font-weight:bold;', 'center');
label(549, 13, 'NSCs', 'font-size:13.5px;', 'center');
label(597, 13, 'iPSCs', 'font-size:13.5px;', 'center');
box(527, 21, 47, 14, '#d2c8aa');
box(574, 21, 32, 14, '#6f7b46');
label(502, 27, 'Gene', 'font-size:14px;font-weight:bold;', 'right');
label(637, 27, 'Locus (ICR)', 'font-size:14px;font-weight:bold;', 'left');
box(424, 39, 24, 913, '#d9d9d9');
box(424, 958, 24, 102, '#d9d9d9');
label(436, 555, 'Germline ICRs', 'font-size:14px;', 'vert');
label(436, 1007, 'Somatic ICRs', 'font-size:14px;', 'vert');

heatChart(GERM_TOP, GERM_GENES, GERM_GENES.map((_, r) => LOCUS_MC[locusOf(r)]), [locusPlugin]);
heatChart(SOM_TOP, SOM_GENES, null, []);

// somatic MC column as stacked floating segments
let cum = 0;
const mcSets = SOM_MC_STATE.map((st, k) => {
  const seg = [cum, cum + SOM_MC_SPAN[k]];
  cum += SOM_MC_SPAN[k];
  return { data: [seg], backgroundColor: MC_COLOR[st], grouped: false, barPercentage: 1, categoryPercentage: 1, borderWidth: 0 };
});
new Chart(canvasAt(610, SOM_TOP, 16, SOM_GENES.length * ROW_H), {
  type: 'bar',
  data: { labels: ['MC'], datasets: mcSets },
  options: {
    responsive: false,
    scales: {
      x: { display: false },
      y: { min: 0, max: SOM_GENES.length, reverse: true, display: false }
    }
  }
});

// column dendrogram
const nodes = REPLICATE_LABELS.map((_, j) => ({ x: HEAT_START + j + 0.5, h: 0 }));
const segs = [];
DENDRO_MERGES.forEach(([a, b, h]) => {
  const A = nodes[a], B = nodes[b];
  segs.push([{ x: A.x, y: A.h }, { x: A.x, y: h }, { x: B.x, y: h }, { x: B.x, y: B.h }]);
  nodes.push({ x: (A.x + B.x) / 2, h });
});
new Chart(canvasAt(508, 1071, 118, 10), {
  type: 'scatter',
  data: { datasets: segs.map(s => ({ data: s, showLine: true, borderColor: '#222', borderWidth: 1, pointRadius: 0 })) },
  options: {
    responsive: false,
    layout: { padding: { top: 1, bottom: 1 } },
    scales: {
      x: { type: 'linear', min: 0, max: HEAT_X_MAX, display: false },
      y: { min: 0, max: 1, reverse: true, display: false }
    }
  }
});

const colX = v => 508 + v * (118 / HEAT_X_MAX);
REPLICATE_LABELS.forEach((t, j) => label(colX(HEAT_START + j + 0.5), 1065, t, 'font-size:12px;', 'center'));
label(516, 1069, 'DE', 'font-size:12px;', 'vert');
label(617, 1067, 'MC', 'font-size:12px;', 'center');

// DE / MC legend
label(631, 965, 'DE', 'font-size:14px;font-weight:bold;', 'left');
[['Downregulated', DE_COLOR.D, 981], ['Upregulated', DE_COLOR.U, 997], ['NS', DE_COLOR.N, 1014]].forEach(([t, col, y]) => {
  box(631, y - 5.5, 13, 11, col);
  label(648, y, t, 'font-size:13px;', 'left');
});
label(631, 1035, 'MC', 'font-size:14px;font-weight:bold;', 'left');
[['Hypomethylated', MC_COLOR.hypo, 1050], ['Hypermethylated', MC_COLOR.hyper, 1068], ['NS', MC_COLOR.ns, 1086]].forEach(([t, col, y]) => {
  box(631, y - 5.5, 13, 11, col);
  label(648, y, t, 'font-size:13px;', 'left');
});

// RNA z-score colour key
label(626, 1103, 'RNA Z\u2212score:', 'font-size:13px;', 'right');
const grad = box(628, 1097, 63, 13, '#fff');
grad.style.background = 'linear-gradient(to right, ' + Z_STOPS.slice().reverse().map(s => zColor(s[0])).join(', ') + ')';
Z_LEGEND_TICKS.forEach((v, k) => label(631 + k * 13.75, 1117, minus(v), 'font-size:11.5px;', 'center'));
</script>
</body>
</html>
